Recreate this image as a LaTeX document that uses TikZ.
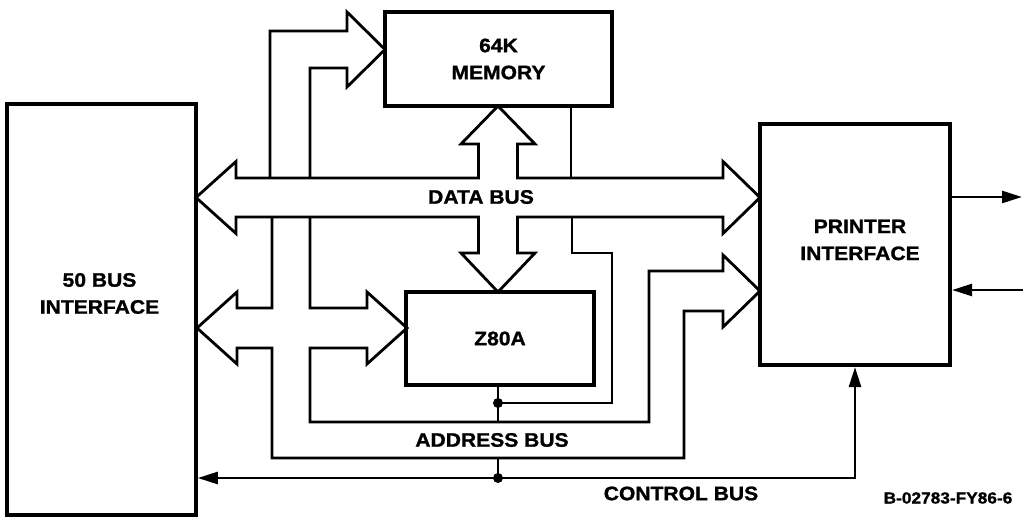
\documentclass[tikz,border=0pt]{standalone}
\usepackage{fontspec}
\newfontfamily\blockfont{Liberation Sans}[FakeStretch=1.08,FakeBold=1.2]
\usetikzlibrary{arrows.meta}

\tikzset{
  block/.style={draw, line width=4.2pt, inner sep=0pt},
  lbl/.style={font=\blockfont\bfseries\fontsize{19.5}{27}\selectfont, align=center},
  pipe/.style={line width=2.8pt, line join=miter},
  wire/.style={line width=2.6pt},
  wirearrow/.style={-{Triangle[length=20pt,width=12pt]}},
}

\begin{document}
\begin{tikzpicture}[x=1pt,y=-1pt]
\useasboundingbox (0,0) rectangle (1023,519);

% blocks
\node[block, line width=3.6pt, minimum width=189pt, minimum height=411pt] (bus) at (101.5,309.5) {};
\node[lbl] (busname) at (99.5,293.5) {50 BUS\\INTERFACE};
\node[block, lbl, minimum width=227pt, minimum height=94pt] (mem) at (498.5,59) {64K\\MEMORY};
\node[block, lbl, minimum width=188pt, minimum height=93pt] (z80) at (500,338.5) {Z80A};
\node[block, minimum width=190pt, minimum height=241pt] (prt) at (855,244.5) {};
\node[lbl] (prtname) at (860,240) {PRINTER\\INTERFACE};

% data bus
\draw[pipe] (196,197.5) -- (236,161.5) -- (236,178) -- (478.5,178) -- (478.5,144) -- (461,144) -- (498,106)
  -- (535,144) -- (517.5,144) -- (517.5,178) -- (723,178) -- (723,161.5) -- (760,197.5) -- (723,233.5)
  -- (723,217) -- (517.5,217) -- (517.5,253) -- (535,253) -- (498,292) -- (461,253) -- (478.5,253)
  -- (478.5,217) -- (236,217) -- (236,233.5) -- cycle;
\node[lbl] (databus) at (481,197) {DATA BUS};

% address bus
\draw[pipe] (270,178) -- (270,31) -- (347,31) -- (347,12) -- (385,49.5) -- (347,87) -- (347,68) -- (310,68) -- (310,178);
\draw[pipe] (272,217) -- (272,308) -- (237,308) -- (237,292) -- (197,328) -- (237,364) -- (237,348) -- (272,348)
  -- (272,458) -- (684,458) -- (684,311) -- (723,311) -- (723,327) -- (760,291) -- (723,255) -- (723,271)
  -- (649,271) -- (649,422) -- (310,422) -- (310,348) -- (367,348) -- (367,364) -- (407,328) -- (367,292)
  -- (367,308) -- (310,308) -- (310,217);
\node[lbl] (addrbus) at (492,440) {ADDRESS BUS};

\coordinate (adr) at (498,403);
\draw[wire] (adr |- z80.south) -- (498,422);
\draw[wire] (adr) -- (612,403) -- (612,253) -- (572,253) -- (572,217);
\draw[wire] (571,106) -- (571,178);
\fill (adr) circle (5pt);

% control bus
\coordinate (ctl) at (498,478);
\draw[wire] (ctl) -- (498,458);
\draw[wire, wirearrow] (ctl) -- (bus.east |- ctl);
\draw[wire, wirearrow] (ctl) -| (prt.south);
\fill (ctl) circle (5pt);
\node[lbl] (ctrlbus) at (681,493.5) {CONTROL BUS};

% printer lines
\draw[wire, wirearrow] (prt.east |- 0,197) -- (1022,197);
\draw[wire, wirearrow] (1023,290) -- (prt.east |- 0,290);

\node[lbl, font=\blockfont\bfseries\fontsize{16}{20}\selectfont] (figid) at (948,498) {B-02783-FY86-6};
\end{tikzpicture}
\end{document}
